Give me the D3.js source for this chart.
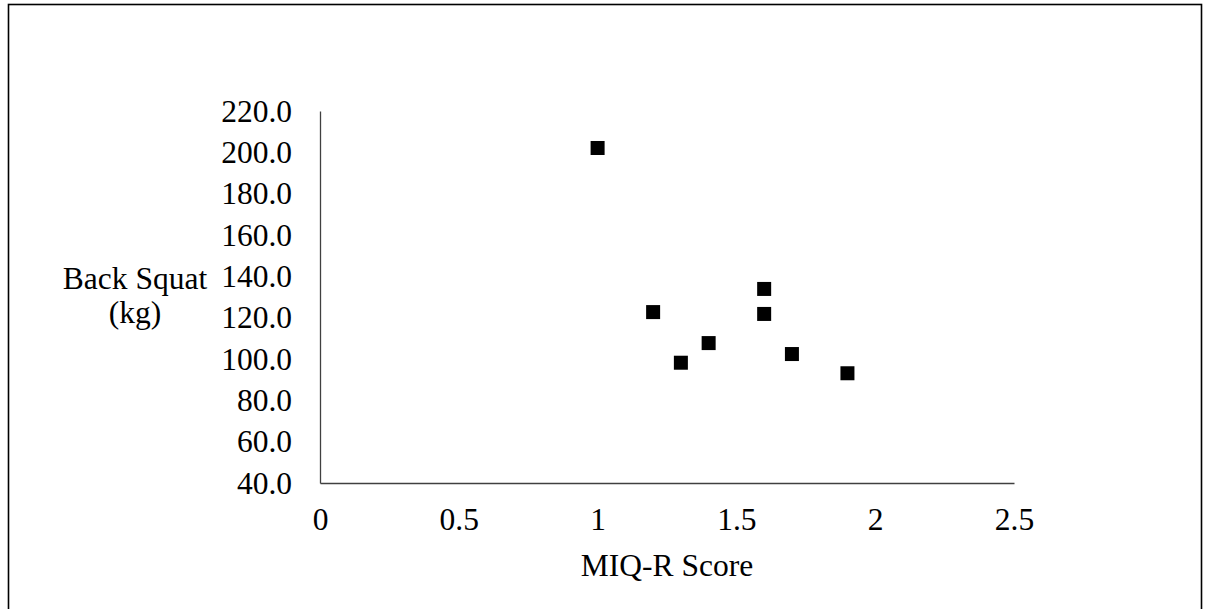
<!DOCTYPE html>
<html lang="en">
<head>
    <meta charset="UTF-8">
    <title>Back Squat vs MIQ-R Score</title>
    <script src="https://cdn.jsdelivr.net/npm/d3@7"></script>
    <style>
        body { margin: 0; background: #fff; }
        svg { display: block; font-family: "Liberation Serif", "Times New Roman", serif; }
    </style>
</head>
<body>
<script>
    // data
    let miqScores = [1.0, 1.2, 1.3, 1.4, 1.6, 1.6, 1.7, 1.9];
    let backSquat = [202.1, 122.7, 98.2, 107.7, 133.9, 121.8, 102.4, 93.1];
    let xTicks = [0, 0.5, 1, 1.5, 2, 2.5];
    let yTicks = [40, 60, 80, 100, 120, 140, 160, 180, 200, 220];

    let width = 1205;
    let height = 609;

    let svg = d3.select("body").append("svg")
        .attr("width", width)
        .attr("height", height);

    // outer chart border
    svg.append("rect")
        .attr("x", 8.5).attr("y", 4.5)
        .attr("width", 1193).attr("height", 700)
        .attr("fill", "none")
        .attr("stroke", "#000")
        .attr("stroke-width", 1.6);

    let x = d3.scaleLinear().domain([0, 2.5]).range([320, 1014]);
    let y = d3.scaleLinear().domain([40, 220]).range([483, 111]);

    // y axis
    let yAxis = svg.append("g")
        .attr("transform", "translate(" + x(0) + ",0)")
        .call(d3.axisLeft(y).tickValues(yTicks).tickSize(0).tickSizeOuter(0)
            .tickPadding(28).tickFormat(d3.format(".1f")));
    yAxis.select(".domain").attr("stroke", "#404040").attr("stroke-width", 1.3);
    yAxis.selectAll("text").attr("font-size", "31.5px").attr("fill", "#000")
        .attr("font-family", "Liberation Serif");

    // x axis
    let xAxis = svg.append("g")
        .attr("transform", "translate(0," + y(40) + ")")
        .call(d3.axisBottom(x).tickValues(xTicks).tickSize(0).tickSizeOuter(0)
            .tickFormat(d => String(d)));
    xAxis.select(".domain").attr("stroke", "#404040").attr("stroke-width", 1.3);
    xAxis.selectAll("text").attr("y", 47).attr("dy", null)
        .attr("font-size", "31.5px").attr("fill", "#000")
        .attr("font-family", "Liberation Serif");

    // points
    svg.append("g").selectAll("rect")
        .data(miqScores)
        .enter().append("rect")
        .attr("x", (d, i) => x(d) - 7)
        .attr("y", (d, i) => y(backSquat[i]) - 7)
        .attr("width", 14).attr("height", 14)
        .attr("fill", "#000");

    // axis titles
    svg.append("text")
        .attr("x", (x(0) + x(2.5)) / 2).attr("y", 576)
        .attr("text-anchor", "middle")
        .attr("font-size", "31.5px")
        .text("MIQ-R Score");

    let yTitle = svg.append("text")
        .attr("text-anchor", "middle")
        .attr("font-size", "31.5px");
    yTitle.append("tspan").attr("x", 135).attr("y", 289).text("Back Squat");
    yTitle.append("tspan").attr("x", 135).attr("y", 323).text("(kg)");
</script>
</body>
</html>
